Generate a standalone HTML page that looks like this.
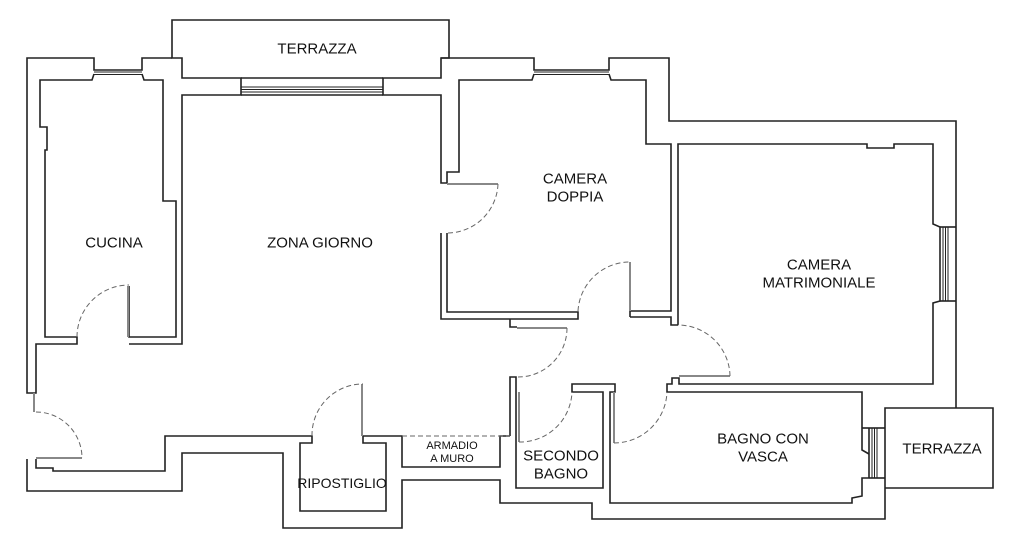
<!DOCTYPE html>
<html><head><meta charset="utf-8"><style>html,body{margin:0;padding:0;background:#fff}svg{display:block}</style></head><body>
<svg width="1024" height="551" viewBox="0 0 1024 551" xmlns="http://www.w3.org/2000/svg">
<g fill="none" stroke="#222" stroke-width="1.6">
<polyline points="172,58 142,58 142,70 94,70 94,58 27,58 27,393 36,393 36,344 77,344 77,337 45,337 45,150 47,150 47,127 40,127 40,80 92,80 94,74"/>
<polyline points="142,74 144,80 163,80 163,201 176,201 176,337 129,337 129,286"/>
<polyline points="129,344 182,344 182,95 241,95 241,78 182,78 182,58 172,58 172,20 449,20 449,58 441,58 441,78 383,78 383,95 441,95 441,183 447,183 447,172 459,172 459,80 532,80 534,74"/>
<line x1="241" y1="78" x2="383" y2="78"/><line x1="241" y1="95" x2="383" y2="95"/>
<polyline points="441,58 534,58 534,70 609,70 609,58 669,58 669,121 956,121 956,408"/>
<polyline points="609,74 611,80 646,80 646,144 671,144 671,311 630,311"/>
<polyline points="630,317 671,317 671,325 678,325"/>
<polyline points="678,325 678,144 867,144 867,148 894,148 894,144 933,144 933,224 940,227 940,301 933,303 933,384 679,384 679,378 672,378 672,384 667,384 667,392 862,392 862,450 869,454"/>
<line x1="630" y1="311" x2="630" y2="317"/>
<line x1="940" y1="227" x2="956" y2="227"/><line x1="940" y1="301" x2="956" y2="301"/>
<polyline points="869,478 862,478 862,496 852,498 852,503 610,503 610,392 615,392 615,384 572,384 572,392 603,392 603,488 516,488 516,377 510,377 510,436"/>
<polyline points="447,233 447,312 578,312 578,319 441,319 441,233"/>
<polyline points="510,319 510,327 517,327"/>
<polyline points="27,459 27,491 182,491 182,453 283,453 283,528 402,528 402,480 500,480 500,503 592,503 592,519 885,519 885,408 993,408 993,488 885,488"/>
<line x1="869" y1="428" x2="885" y2="428"/><line x1="869" y1="478" x2="885" y2="478"/><line x1="869" y1="428" x2="869" y2="478"/><line x1="862" y1="428" x2="869" y2="428"/>
<polyline points="36,459 36,468 53,468 53,471 165,471 165,436 312,436 312,443 300,443 300,511 386,511 386,443 363,443 363,436 402,436 402,467 500,467 500,436 510,436"/>
</g>
<g stroke="#222" stroke-width="1">
<line x1="94" y1="72" x2="142" y2="72"/><line x1="94" y1="74.5" x2="142" y2="74.5"/>
<line x1="241" y1="87" x2="383" y2="87"/><line x1="241" y1="89.5" x2="383" y2="89.5"/><line x1="241" y1="92" x2="383" y2="92"/>
<line x1="534" y1="72" x2="609" y2="72"/><line x1="534" y1="74.5" x2="609" y2="74.5"/>
<line x1="943" y1="227" x2="943" y2="301"/><line x1="945.5" y1="227" x2="945.5" y2="301"/><line x1="948" y1="227" x2="948" y2="301"/>
<line x1="872" y1="428" x2="872" y2="478"/><line x1="874.5" y1="428" x2="874.5" y2="478"/><line x1="877" y1="428" x2="877" y2="478"/>
</g>
<g stroke="#888" stroke-width="2" fill="none">
<line x1="128" y1="286" x2="128" y2="337"/><line x1="34" y1="393" x2="34" y2="412"/><line x1="36" y1="458" x2="82" y2="458"/>
<line x1="362" y1="384" x2="362" y2="436"/><line x1="447" y1="184" x2="498" y2="184"/><line x1="630" y1="262" x2="630" y2="311"/>
<line x1="517" y1="328" x2="567" y2="328"/><line x1="519" y1="392" x2="519" y2="442"/><line x1="614" y1="392" x2="614" y2="443"/>
<line x1="679" y1="376" x2="730" y2="376"/>
</g>
<g stroke="#666" stroke-width="1" fill="none" stroke-dasharray="5,3">
<path d="M77,337 A52,52 0 0 1 129,285"/>
<path d="M36,412 A46,46 0 0 1 82,458"/>
<path d="M312,436 A51,51 0 0 1 363,384"/>
<path d="M498,184 A51,51 0 0 1 447,233"/>
<path d="M578,311 A52,52 0 0 1 630,262"/>
<path d="M567,328 A49,49 0 0 1 518,377"/>
<path d="M519,442 A52,52 0 0 0 572,392"/>
<path d="M614,443 A53,53 0 0 0 667,392"/>
<path d="M730,376 A52,52 0 0 0 678,325"/>
<line x1="402" y1="436" x2="510" y2="436"/>
</g>
<g font-family="Liberation Sans, sans-serif" font-size="15" fill="#111" text-anchor="middle" dominant-baseline="central">
<text x="317" y="49">TERRAZZA</text>
<text x="114" y="243">CUCINA</text>
<text x="320" y="243">ZONA GIORNO</text>
<text x="575" y="179">CAMERA</text><text x="575" y="197">DOPPIA</text>
<text x="819" y="265">CAMERA</text><text x="819" y="283">MATRIMONIALE</text>
<text x="763" y="439">BAGNO CON</text><text x="763" y="457">VASCA</text>
<text x="942" y="449">TERRAZZA</text>
<text x="561" y="456">SECONDO</text><text x="561" y="474">BAGNO</text>
<text x="342" y="483" font-size="14">RIPOSTIGLIO</text>
<text x="452" y="446" font-size="11">ARMADIO</text><text x="452" y="459" font-size="11">A MURO</text>
</g>
</svg>
</body></html>
